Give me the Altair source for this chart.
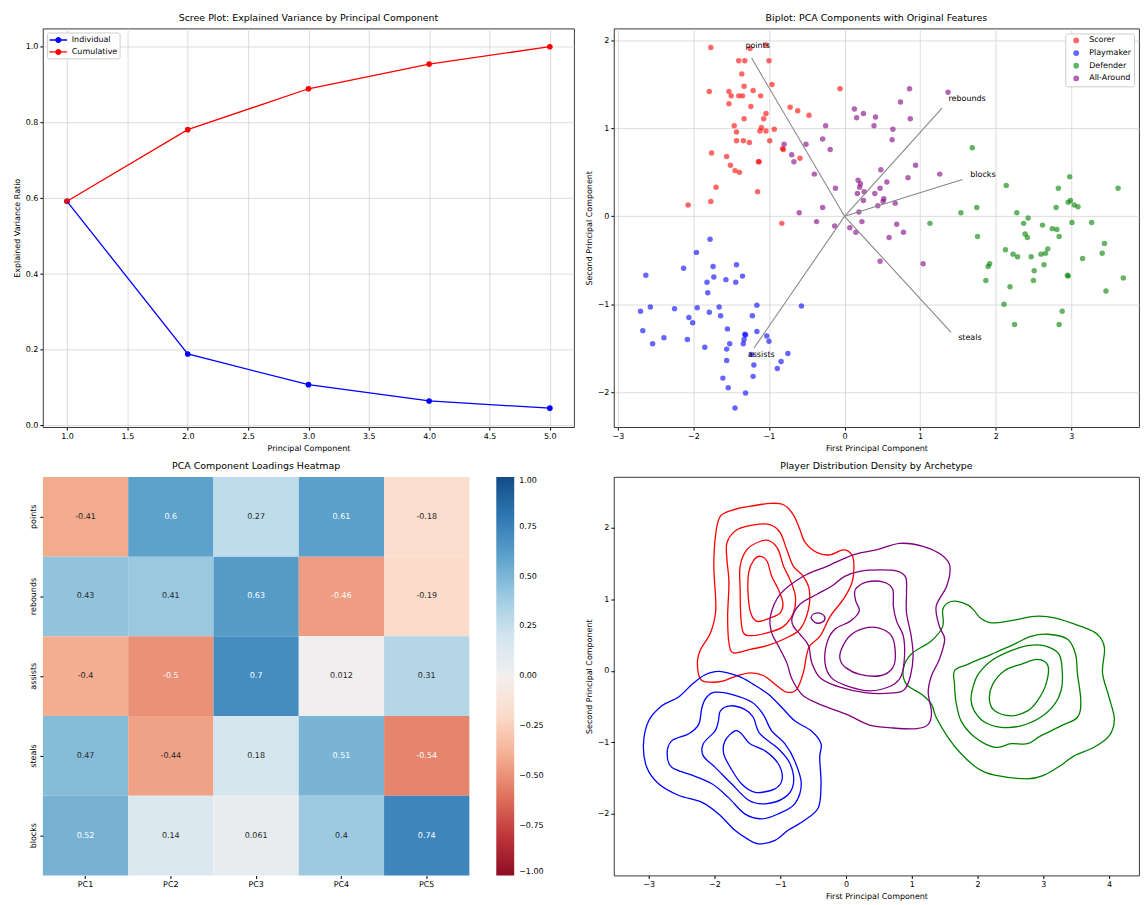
import altair as alt
import pandas as pd

FONT = "DejaVu Sans"

# ---------------- Scree plot data ----------------
COMPONENTS = [1, 2, 3, 4, 5]
INDIVIDUAL = [0.592, 0.189, 0.108, 0.065, 0.046]
CUMULATIVE = [0.592, 0.781, 0.889, 0.954, 1.000]
SCREE_SERIES = ["Individual", "Cumulative"]
SCREE_COLORS = ["blue", "red"]

# ---------------- Loadings ----------------
FEATURES = ["points", "rebounds", "assists", "steals", "blocks"]
PCS = ["PC1", "PC2", "PC3", "PC4", "PC5"]
LOADINGS = [
    [-0.41, 0.6, 0.27, 0.61, -0.18],
    [0.43, 0.41, 0.63, -0.46, -0.19],
    [-0.4, -0.5, 0.7, 0.012, 0.31],
    [0.47, -0.44, 0.18, 0.51, -0.54],
    [0.52, 0.14, 0.061, 0.4, 0.74],
]

# ---------------- Archetypes ----------------
ARCHETYPES = ["Scorer", "Playmaker", "Defender", "All-Around"]
ARCH_COLORS = ["red", "blue", "green", "purple"]

SCORER_PTS = [(-1.77, 1.92), (-1.25, 1.91), (-1.04, 1.95), (-1.40, 1.77), (-1.32, 1.77), (-1.00, 1.77),
              (-1.36, 1.62), (-0.96, 1.50), (-1.33, 1.48), (-1.79, 1.42), (-1.53, 1.42), (-1.50, 1.37),
              (-1.40, 1.37), (-1.35, 1.37), (-1.21, 1.43), (-1.11, 1.37), (-1.53, 1.28), (-1.24, 1.25),
              (-0.72, 1.24), (-0.62, 1.20), (-0.47, 1.15), (-0.06, 1.45), (-1.04, 1.17), (-1.07, 1.11),
              (-1.33, 1.11), (-1.46, 1.03), (-1.10, 1.01), (-1.12, 0.97), (-1.04, 0.97), (-0.93, 0.99),
              (-1.43, 0.96), (-1.43, 0.86), (-1.34, 0.86), (-1.26, 0.84), (-0.99, 0.86), (-0.82, 0.77),
              (-0.81, 0.76), (-0.59, 0.66), (-1.76, 0.72), (-1.56, 0.68), (-1.51, 0.58), (-1.45, 0.52),
              (-1.39, 0.50), (-1.14, 0.62), (-1.13, 0.62), (-1.70, 0.33), (-1.77, 0.17), (-2.07, 0.13),
              (-1.15, 0.28), (-0.83, -0.08)]
PLAYMAKER_PTS = [(-1.78, -0.26), (-1.96, -0.41), (-2.13, -0.59), (-2.63, -0.67), (-1.74, -0.57), (-1.43, -0.55),
                 (-1.82, -0.75), (-1.73, -0.69), (-1.57, -0.72), (-1.44, -0.75), (-1.35, -0.68), (-1.81, -0.87),
                 (-2.70, -1.08), (-2.57, -1.03), (-2.25, -1.05), (-1.95, -1.04), (-1.66, -1.03), (-1.79, -1.09),
                 (-1.64, -1.13), (-2.06, -1.15), (-2.01, -1.21), (-1.16, -1.01), (-1.22, -1.13), (-0.57, -1.02),
                 (-2.67, -1.30), (-1.55, -1.28), (-1.16, -1.31), (-1.32, -1.34), (-1.31, -1.35), (-2.39, -1.38),
                 (-2.08, -1.40), (-2.54, -1.45), (-1.85, -1.49), (-1.52, -1.45), (-1.56, -1.51), (-1.33, -1.40),
                 (-1.34, -1.45), (-1.03, -1.36), (-1.00, -1.42), (-1.23, -1.57), (-0.75, -1.56), (-0.84, -1.65),
                 (-0.89, -1.73), (-1.20, -1.69), (-1.56, -1.64), (-1.21, -1.82), (-1.61, -1.84), (-1.54, -1.95),
                 (-1.31, -2.01), (-1.45, -2.18)]
DEFENDER_PTS = [(1.69, 0.78), (2.98, 0.45), (2.14, 0.35), (2.83, 0.32), (3.62, 0.32), (2.99, 0.18),
                (2.96, 0.16), (3.04, 0.13), (3.09, 0.11), (2.80, 0.10), (1.75, 0.10), (1.54, 0.04),
                (2.28, 0.04), (2.43, -0.02), (2.37, -0.08), (1.13, -0.08), (3.01, -0.07), (3.27, -0.07),
                (2.62, -0.10), (2.75, -0.14), (2.81, -0.15), (2.39, -0.20), (2.42, -0.24), (2.84, -0.23),
                (1.76, -0.23), (3.44, -0.31), (2.69, -0.37), (2.13, -0.38), (2.23, -0.43), (2.29, -0.46),
                (2.60, -0.43), (2.66, -0.42), (2.47, -0.46), (3.41, -0.42), (3.15, -0.48), (1.92, -0.54),
                (1.90, -0.57), (2.64, -0.55), (2.51, -0.62), (2.95, -0.67), (2.96, -0.68), (3.69, -0.70),
                (1.87, -0.73), (2.50, -0.73), (2.19, -0.80), (3.46, -0.85), (2.11, -1.00), (2.88, -1.08),
                (2.25, -1.23), (2.84, -1.23)]
ALLAROUND_PTS = [(0.86, 1.45), (0.74, 1.30), (1.37, 1.41), (0.13, 1.22), (0.16, 1.12), (0.25, 1.17),
                 (0.41, 1.13), (0.87, 1.11), (0.39, 1.03), (0.64, 0.99), (0.63, 0.87), (0.94, 0.58),
                 (0.48, 0.53), (1.26, 0.48), (0.84, 0.44), (0.18, 0.41), (0.21, 0.37), (0.56, 0.39),
                 (0.20, 0.33), (0.47, 0.32), (0.26, 0.28), (0.17, 0.26), (0.40, 0.26), (0.52, 0.20),
                 (0.51, 0.17), (0.25, 0.18), (0.44, 0.12), (0.67, 0.15), (0.19, 0.05), (0.23, -0.06),
                 (0.69, -0.09), (0.07, -0.13), (0.15, -0.18), (0.78, -0.18), (0.59, -0.24), (0.47, -0.51),
                 (1.04, -0.54), (-0.80, 0.82), (-0.25, 1.03), (-0.29, 0.88), (-0.19, 0.76), (-0.51, 0.82),
                 (-0.70, 0.70), (-0.67, 0.62), (-0.40, 0.48), (-0.12, 0.32), (-0.29, 0.10), (-0.60, 0.04),
                 (-0.37, -0.06), (-0.13, -0.11)]

ARROW_SCALE = 3.0
LABEL_SCALE = 3.2

# ---------------- Density contours (traced) ----------------
SCORER_CONTOURS = [
    [(-1.91, 2.16), (-1.71, 2.25), (-1.45, 2.30), (-1.15, 2.34), (-0.95, 2.32), (-0.80, 2.18), (-0.70, 1.97),
     (-0.62, 1.79), (-0.44, 1.65), (-0.24, 1.62), (-0.04, 1.69), (0.09, 1.62), (0.12, 1.46), (0.09, 1.23),
     (-0.04, 1.00), (-0.24, 0.76), (-0.39, 0.49), (-0.55, 0.35), (-0.60, 0.21), (-0.65, -0.03), (-0.75, -0.26),
     (-0.90, -0.30), (-1.05, -0.21), (-1.25, -0.07), (-1.45, -0.03), (-1.66, -0.07), (-1.86, -0.14),
     (-2.06, -0.16), (-2.21, -0.12), (-2.26, 0.11), (-2.21, 0.30), (-2.06, 0.53), (-1.98, 0.86), (-2.01, 1.46),
     (-1.98, 1.92)],
    [(-1.81, 1.79), (-1.66, 1.97), (-1.40, 2.04), (-1.15, 2.04), (-1.00, 1.93), (-0.90, 1.69), (-0.80, 1.46),
     (-0.65, 1.32), (-0.56, 1.14), (-0.57, 0.86), (-0.70, 0.58), (-0.95, 0.44), (-1.20, 0.35), (-1.45, 0.30),
     (-1.71, 0.25), (-1.78, 0.39), (-1.80, 0.76), (-1.78, 1.23), (-1.81, 1.55)],
    [(-1.61, 1.46), (-1.51, 1.69), (-1.30, 1.81), (-1.15, 1.81), (-1.03, 1.69), (-0.95, 1.46), (-0.85, 1.27),
     (-0.77, 1.04), (-0.80, 0.81), (-0.95, 0.62), (-1.20, 0.53), (-1.43, 0.49), (-1.56, 0.53), (-1.60, 0.76),
     (-1.61, 1.14)],
    [(-1.48, 1.37), (-1.40, 1.55), (-1.30, 1.60), (-1.20, 1.53), (-1.13, 1.32), (-1.03, 1.14), (-0.96, 0.95),
     (-1.00, 0.81), (-1.15, 0.74), (-1.35, 0.69), (-1.45, 0.81), (-1.49, 1.09)],
]
PLAYMAKER_CONTOURS = [
    [(-1.93, -0.01), (-1.63, -0.08), (-1.41, -0.19), (-1.18, -0.33), (-0.98, -0.51), (-0.78, -0.70),
     (-0.53, -0.84), (-0.38, -1.02), (-0.40, -1.21), (-0.38, -1.58), (-0.42, -1.91), (-0.63, -2.09),
     (-0.88, -2.23), (-1.08, -2.37), (-1.33, -2.42), (-1.50, -2.35), (-1.69, -2.23), (-1.94, -2.00),
     (-2.19, -1.84), (-2.55, -1.74), (-2.85, -1.58), (-3.03, -1.35), (-3.08, -1.02), (-3.00, -0.70),
     (-2.80, -0.49), (-2.55, -0.37), (-2.34, -0.19), (-2.15, -0.06)],
    [(-1.99, -0.30), (-1.74, -0.33), (-1.43, -0.44), (-1.26, -0.61), (-1.13, -0.84), (-0.93, -1.02),
     (-0.78, -1.26), (-0.68, -1.58), (-0.78, -1.86), (-1.03, -2.00), (-1.28, -2.07), (-1.54, -2.00),
     (-1.79, -1.77), (-2.04, -1.58), (-2.34, -1.46), (-2.65, -1.35), (-2.72, -1.16), (-2.65, -0.98),
     (-2.39, -0.88), (-2.24, -0.75), (-2.19, -0.51), (-2.12, -0.37)],
    [(-1.91, -0.56), (-1.76, -0.49), (-1.54, -0.54), (-1.41, -0.65), (-1.31, -0.88), (-1.03, -1.09),
     (-0.85, -1.30), (-0.80, -1.58), (-0.93, -1.77), (-1.23, -1.86), (-1.48, -1.81), (-1.74, -1.58),
     (-1.99, -1.35), (-2.17, -1.19), (-2.17, -1.02), (-1.99, -0.84), (-1.94, -0.70)],
    [(-1.84, -0.98), (-1.69, -0.84), (-1.59, -0.88), (-1.46, -1.02), (-1.23, -1.12), (-1.03, -1.30),
     (-0.97, -1.51), (-1.08, -1.65), (-1.38, -1.70), (-1.59, -1.58), (-1.76, -1.35), (-1.86, -1.16)],
]
DEFENDER_CONTOURS = [
    [(0.87, 0.02), (0.99, 0.23), (1.30, 0.42), (1.47, 0.62), (1.47, 0.85), (1.55, 0.95), (1.69, 0.97),
     (1.85, 0.92), (1.95, 0.84), (2.04, 0.74), (2.21, 0.67), (2.51, 0.70), (2.86, 0.76), (3.17, 0.74),
     (3.57, 0.62), (3.82, 0.51), (3.93, 0.32), (3.90, -0.03), (4.00, -0.37), (4.08, -0.68), (4.00, -0.91),
     (3.77, -1.07), (3.47, -1.19), (3.27, -1.32), (3.01, -1.46), (2.76, -1.51), (2.26, -1.46), (2.01, -1.37),
     (1.75, -1.16), (1.55, -0.93), (1.37, -0.65), (1.30, -0.47), (1.15, -0.33), (0.92, -0.19)],
    [(1.65, -0.00), (1.85, 0.09), (2.21, 0.23), (2.51, 0.35), (2.81, 0.48), (3.07, 0.51), (3.37, 0.44),
     (3.49, 0.23), (3.52, -0.05), (3.57, -0.42), (3.52, -0.65), (3.27, -0.77), (2.96, -0.91), (2.76, -1.02),
     (2.51, -1.02), (2.26, -1.07), (1.96, -0.93), (1.75, -0.70), (1.67, -0.42), (1.65, -0.19)],
    [(1.93, -0.23), (2.01, -0.05), (2.21, 0.14), (2.51, 0.28), (2.76, 0.35), (3.01, 0.35), (3.24, 0.23),
     (3.29, -0.05), (3.27, -0.28), (3.17, -0.47), (2.96, -0.65), (2.66, -0.77), (2.36, -0.79), (2.11, -0.72),
     (1.95, -0.56), (1.90, -0.40)],
    [(2.18, -0.40), (2.23, -0.19), (2.41, -0.00), (2.66, 0.09), (2.91, 0.16), (3.07, 0.07), (3.04, -0.19),
     (2.91, -0.42), (2.76, -0.56), (2.51, -0.63), (2.26, -0.56)],
]
ALLAROUND_CONTOURS = [
    [(-1.15, 0.76), (-1.00, 1.07), (-0.65, 1.32), (-0.29, 1.46), (0.11, 1.62), (0.46, 1.69), (0.82, 1.78),
     (1.17, 1.74), (1.45, 1.62), (1.58, 1.46), (1.53, 1.18), (1.37, 0.90), (1.42, 0.62), (1.50, 0.44),
     (1.42, 0.16), (1.30, -0.07), (1.25, -0.30), (1.30, -0.58), (1.25, -0.75), (1.07, -0.81), (0.72, -0.80),
     (0.36, -0.76), (0.01, -0.61), (-0.34, -0.49), (-0.65, -0.35), (-0.82, -0.12), (-0.90, 0.11),
     (-1.03, 0.35), (-1.13, 0.53)],
    [(-0.53, 0.74), (-0.48, 0.80), (-0.38, 0.80), (-0.32, 0.74), (-0.36, 0.68), (-0.46, 0.67)],
    [(-0.82, 0.74), (-0.70, 0.93), (-0.44, 1.07), (-0.22, 1.18), (-0.02, 1.32), (0.21, 1.39), (0.52, 1.41),
     (0.79, 1.39), (0.91, 1.30), (0.92, 1.09), (0.92, 0.81), (0.99, 0.49), (1.02, 0.21), (0.98, -0.07),
     (0.89, -0.26), (0.72, -0.31), (0.31, -0.31), (-0.09, -0.23), (-0.39, -0.10), (-0.52, 0.11),
     (-0.57, 0.35), (-0.70, 0.51), (-0.80, 0.62)],
    [(0.16, 1.16), (0.31, 1.24), (0.57, 1.24), (0.71, 1.14), (0.72, 0.90), (0.77, 0.69), (0.87, 0.49),
     (0.89, 0.21), (0.84, -0.07), (0.69, -0.21), (0.36, -0.28), (0.01, -0.21), (-0.22, -0.10), (-0.32, 0.11),
     (-0.29, 0.39), (-0.17, 0.58), (0.06, 0.69), (0.20, 0.83), (0.15, 0.97), (0.13, 1.09)],
    [(-0.07, 0.30), (0.06, 0.49), (0.26, 0.59), (0.49, 0.60), (0.69, 0.49), (0.75, 0.25), (0.71, 0.04),
     (0.52, -0.07), (0.21, -0.05), (0.00, 0.04), (-0.09, 0.16)],
]

# ---------------- Build tables ----------------
scree_df = pd.DataFrame({
    "pc": COMPONENTS * 2,
    "ratio": INDIVIDUAL + CUMULATIVE,
    "series": [SCREE_SERIES[0]] * len(COMPONENTS) + [SCREE_SERIES[1]] * len(COMPONENTS),
})

pts_rows = []
for name, pts in zip(ARCHETYPES, [SCORER_PTS, PLAYMAKER_PTS, DEFENDER_PTS, ALLAROUND_PTS]):
    for (a, b) in pts:
        pts_rows.append({"archetype": name, "pc1": a, "pc2": b})
pts_df = pd.DataFrame(pts_rows)

load_rows = []
for f, row in zip(FEATURES, LOADINGS):
    load_rows.append({"feature": f, "origin": 0.0,
                      "ax": row[0] * ARROW_SCALE, "ay": row[1] * ARROW_SCALE,
                      "tx": row[0] * LABEL_SCALE, "ty": row[1] * LABEL_SCALE})
load_df = pd.DataFrame(load_rows)

hm_rows = []
for f, row in zip(FEATURES, LOADINGS):
    for p, v in zip(PCS, row):
        hm_rows.append({"feature": f, "pc": p, "value": v, "label": format(v, ".2g")})
hm_df = pd.DataFrame(hm_rows)

cont_rows = []
for name, conts in zip(ARCHETYPES, [SCORER_CONTOURS, PLAYMAKER_CONTOURS, DEFENDER_CONTOURS, ALLAROUND_CONTOURS]):
    for li, c in enumerate(conts):
        for i, (a, b) in enumerate(c):
            cont_rows.append({"archetype": name, "cid": f"{name}-{li}", "i": i, "x": a, "y": b})
cont_df = pd.DataFrame(cont_rows)

# ---------------- Scree plot ----------------
W1, H = 533, 400
W2 = 527

sx = alt.X("pc:Q", title="Principal Component",
           scale=alt.Scale(domain=[0.8, 5.2], nice=False, zero=False),
           axis=alt.Axis(values=[1, 1.5, 2, 2.5, 3, 3.5, 4, 4.5, 5], format=".1f", grid=True))
sy = alt.Y("ratio:Q", title="Explained Variance Ratio",
           scale=alt.Scale(domain=[-0.004, 1.048], nice=False, zero=False),
           axis=alt.Axis(values=[0, 0.2, 0.4, 0.6, 0.8, 1.0], format=".1f", grid=True))
scol = alt.Color("series:N", sort=SCREE_SERIES,
                 scale=alt.Scale(domain=SCREE_SERIES, range=SCREE_COLORS),
                 legend=alt.Legend(title=None, orient="top-left", offset=4, padding=2,
                                   strokeColor="#cccccc", fillColor="white", cornerRadius=2,
                                   symbolType="M-1.6,-0.12L1.6,-0.12L1.6,0.12L-1.6,0.12Z M0.55,0A0.55,0.55,0,1,1,-0.55,0A0.55,0.55,0,1,1,0.55,0Z",
                                   symbolSize=121, symbolStrokeWidth=0, symbolOffset=4,
                                   rowPadding=2, labelOffset=8))
scree_pts = alt.Chart(scree_df).mark_point(filled=True, size=32, opacity=1).encode(x=sx, y=sy, color=scol)
scree_line = alt.Chart(scree_df).mark_line(strokeWidth=1.3).encode(x=sx, y=sy, color=scol)
scree = alt.layer(scree_pts, scree_line).properties(
    width=W1, height=H, title="Scree Plot: Explained Variance by Principal Component")

# ---------------- Biplot ----------------
bx_scale = alt.Scale(domain=[-3.053, 3.897], nice=False, zero=False)
by_scale = alt.Scale(domain=[-2.397, 2.136], nice=False, zero=False)
bx_axis = alt.Axis(values=[-3, -2, -1, 0, 1, 2, 3], grid=True)
by_axis = alt.Axis(values=[-2, -1, 0, 1, 2], grid=True)
XT, YT = "First Principal Component", "Second Principal Component"

bscatter = alt.Chart(pts_df).mark_circle(size=30, opacity=0.6).encode(
    x=alt.X("pc1:Q", title=XT, scale=bx_scale, axis=bx_axis),
    y=alt.Y("pc2:Q", title=YT, scale=by_scale, axis=by_axis),
    color=alt.Color("archetype:N", sort=ARCHETYPES,
                    scale=alt.Scale(domain=ARCHETYPES, range=ARCH_COLORS),
                    legend=alt.Legend(title=None, orient="top-right", offset=5, padding=3,
                                      strokeColor="#cccccc", fillColor="white", cornerRadius=2,
                                      symbolSize=34, symbolOpacity=0.6, symbolOffset=4,
                                      rowPadding=4.7, labelOffset=9)),
)
barrows = alt.Chart(load_df).mark_rule(color="#888888", strokeWidth=1.1).encode(
    x=alt.X("origin:Q", title=XT, scale=bx_scale, axis=bx_axis),
    y=alt.Y("origin:Q", title=YT, scale=by_scale, axis=by_axis),
    x2="ax:Q", y2="ay:Q",
)
btext = alt.Chart(load_df).mark_text(align="left", baseline="alphabetic", fontSize=8, font=FONT,
                                     color="black").encode(
    x=alt.X("tx:Q", title=XT, scale=bx_scale, axis=bx_axis),
    y=alt.Y("ty:Q", title=YT, scale=by_scale, axis=by_axis),
    text="feature:N",
)
biplot = alt.layer(bscatter, barrows, btext).properties(
    width=W2, height=H, title="Biplot: PCA Components with Original Features")

# ---------------- Heatmap ----------------
hx = alt.X("pc:N", sort=PCS, title=None,
           scale=alt.Scale(paddingInner=0, paddingOuter=0),
           axis=alt.Axis(labelAngle=0, ticks=True))
hy = alt.Y("feature:N", sort=FEATURES, title=None,
           scale=alt.Scale(paddingInner=0, paddingOuter=0),
           axis=alt.Axis(labelAngle=-90, labelAlign="center", labelBaseline="bottom", ticks=True))
hrect = alt.Chart(hm_df).mark_rect().encode(
    x=hx, y=hy,
    color=alt.Color("value:Q", scale=alt.Scale(scheme="redblue", domain=[-1, 1]),
                    legend=alt.Legend(title=None, orient="right", offset=27, padding=0,
                                      values=[-1, -0.75, -0.5, -0.25, 0, 0.25, 0.5, 0.75, 1],
                                      format=".2f", gradientLength=400, gradientThickness=18,
                                      gradientStrokeWidth=0, labelOffset=5, labelOverlap=False)),
)
htext = alt.Chart(hm_df).mark_text(fontSize=8, font=FONT).encode(
    x=hx, y=hy, text="label:N",
    color=alt.condition((alt.datum.value >= 0.5) | (alt.datum.value <= -0.45),
                        alt.value("white"), alt.value("#262626")),
)
heatmap = alt.layer(hrect, htext).properties(
    width=428, height=H, title="PCA Component Loadings Heatmap",
    view=alt.ViewBackground(stroke="transparent"))

# ---------------- Density contours ----------------
density = alt.Chart(cont_df).mark_line(interpolate="cardinal-closed", strokeWidth=1.3).encode(
    x=alt.X("x:Q", title=XT, scale=alt.Scale(domain=[-3.53, 4.455], nice=False, zero=False),
            axis=alt.Axis(values=[-3, -2, -1, 0, 1, 2, 3, 4], grid=False)),
    y=alt.Y("y:Q", title=YT, scale=alt.Scale(domain=[-2.862, 2.709], nice=False, zero=False),
            axis=alt.Axis(values=[-2, -1, 0, 1, 2], grid=False)),
    color=alt.Color("archetype:N", scale=alt.Scale(domain=ARCHETYPES, range=ARCH_COLORS), legend=None),
    detail="cid:N",
    order="i:Q",
).properties(width=W2, height=H, title="Player Distribution Density by Archetype")

chart = alt.concat(scree, biplot, heatmap, density, columns=2,
                   spacing={"row": 8, "column": 9}).resolve_scale(
    color="independent").resolve_legend(color="independent").properties(
    padding={"left": 4, "top": 3, "right": 0, "bottom": 0}
).configure(font=FONT).configure_axis(
    labelFont=FONT, titleFont=FONT, labelFontSize=8, titleFontSize=8,
    labelColor="black", titleColor="black", tickColor="black", tickSize=3,
    domain=False, labelPadding=2, titlePadding=4, titleFontWeight="normal",
    gridColor="#d3d3d3", gridWidth=0.8,
).configure_view(stroke="#222222", strokeWidth=0.9).configure_title(
    font=FONT, fontSize=9.5, fontWeight="normal", color="black", offset=6, frame="group", anchor="middle"
).configure_legend(labelFont=FONT, labelFontSize=8, labelColor="black")

chart.save("out.html", embed_options={"renderer": "svg", "actions": False})
